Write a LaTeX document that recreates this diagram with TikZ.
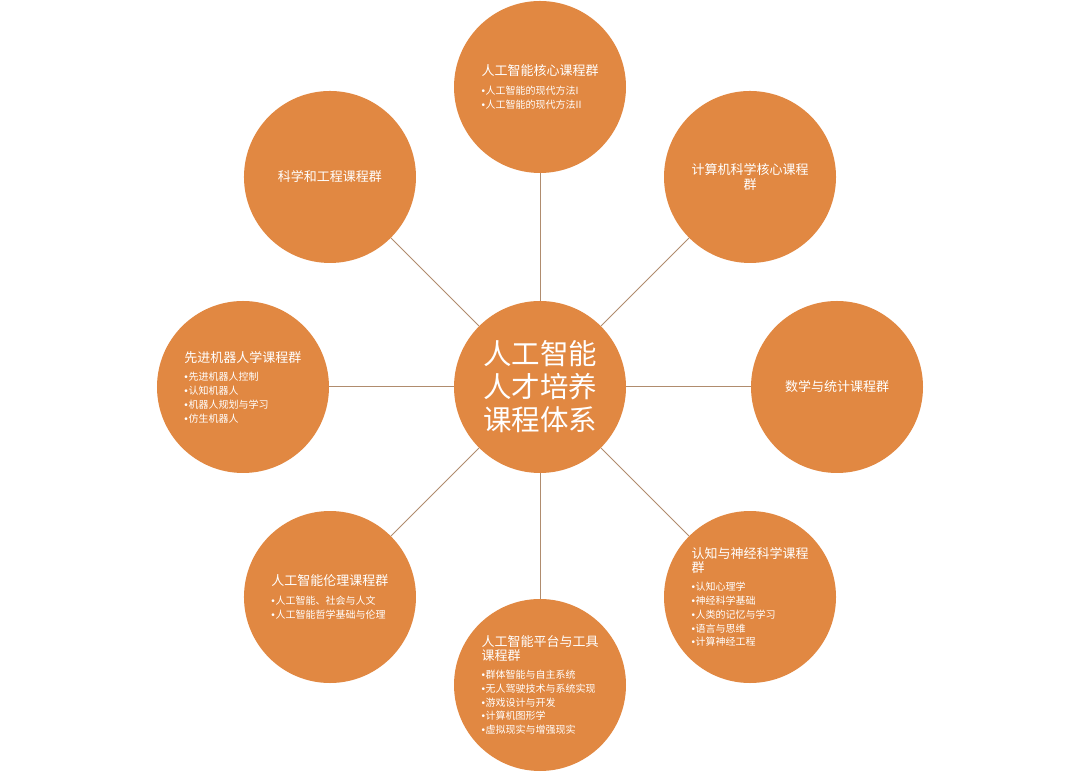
\documentclass[tikz,border=0pt]{standalone}
\usepackage{fontspec}
\newfontfamily\cjk{Noto Sans CJK SC}
\newfontfamily\latin{Liberation Sans}
\usepackage{xcolor}
\definecolor{ballfill}{RGB}{225,136,66}
\definecolor{spoke}{RGB}{176,140,110}
\newcommand{\grptitle}[1]{{\fontsize{6.5}{7.5}\selectfont #1}}
\newcommand{\bul}{{\latin •}\hspace{0.3pt}}

\begin{document}
\begin{tikzpicture}[x=0.5pt, y=0.5pt,
    ball/.style={draw=none, circle, fill=ballfill, minimum size=86pt, inner sep=0pt, text=white, font=\cjk},
    hub/.style={ball, font=\cjk\fontsize{14.25}{16.5}\selectfont, align=center},
    group/.style={ball, font=\cjk\fontsize{5}{6.85}\selectfont, align=left},
    plain/.style={ball, font=\cjk\fontsize{6.5}{7.5}\selectfont, align=center}]
                \useasboundingbox (-540,-387) rectangle (540,387);

                \node[hub] (H) at (0,0) {人工智能\\人才培养\\课程体系};

                \node[group] (N) at (90:300) {\grptitle{人工智能核心课程群}\\[2.5pt]
                    \bul 人工智能的现代方法I\\
                    \bul 人工智能的现代方法II};
                \node[plain] (NE) at (45:297) {计算机科学核心课程\\群};
                \node[plain] (E) at (0:297) {数学与统计课程群};
                \node[group] (SE) at (-45:297) {\grptitle{认知与神经科学课程}\\
                    \grptitle{群}\\[2.5pt]
                    \bul 认知心理学\\
                    \bul 神经科学基础\\
                    \bul 人类的记忆与学习\\
                    \bul 语言与思维\\
                    \bul 计算神经工程};
                \node[group] (S) at (-90:298) {\grptitle{人工智能平台与工具}\\
                    \grptitle{课程群}\\[2.5pt]
                    \bul 群体智能与自主系统\\
                    \bul 无人驾驶技术与系统实现\\
                    \bul 游戏设计与开发\\
                    \bul 计算机图形学\\
                    \bul 虚拟现实与增强现实};
                \node[group] (SW) at (-135:297) {\grptitle{人工智能伦理课程群}\\[2.5pt]
                    \bul 人工智能、社会与人文\\
                    \bul 人工智能哲学基础与伦理};
                \node[group] (W) at (180:297) {\grptitle{先进机器人学课程群}\\[2.5pt]
                    \bul 先进机器人控制\\
                    \bul 认知机器人\\
                    \bul 机器人规划与学习\\
                    \bul 仿生机器人};
                \node[plain] (NW) at (135:297) {科学和工程课程群};

                % spokes from the hub to every group
                \foreach \g in {N, NE, E, SE, S, SW, W, NW}
                    \draw[spoke, line width=0.5pt] (H) -- (\g);

\end{tikzpicture}
\end{document}
